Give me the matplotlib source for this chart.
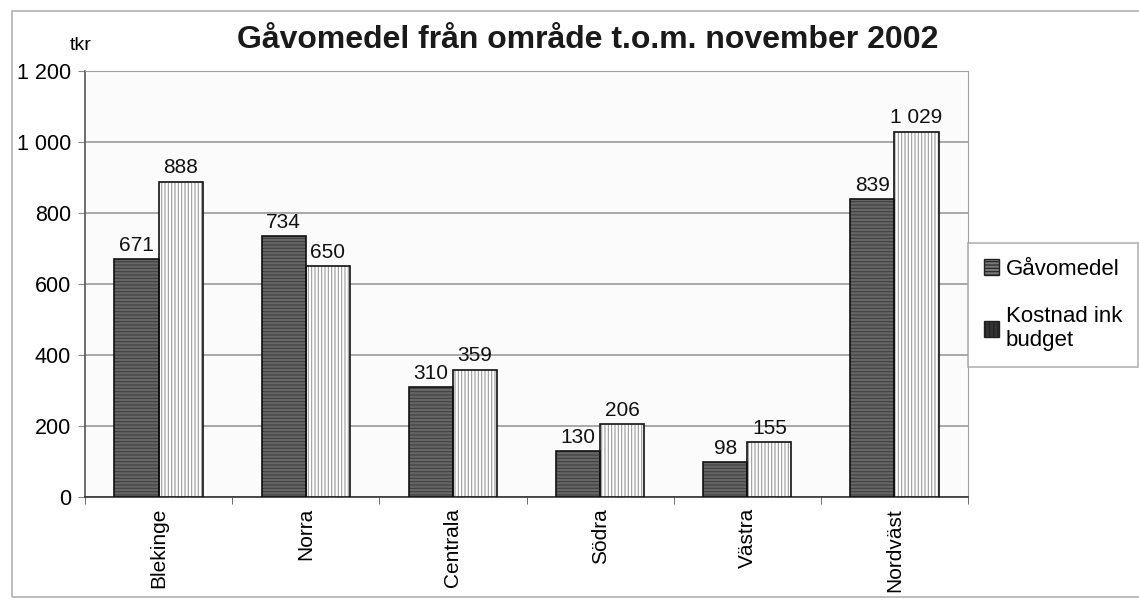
import matplotlib
matplotlib.use("Agg")
import matplotlib.pyplot as plt
import numpy as np
from matplotlib.patches import Rectangle, Patch

plt.rcParams['font.family'] = ['Liberation Sans', 'DejaVu Sans']
plt.rcParams['hatch.linewidth'] = 0.8

categories = ["Blekinge", "Norra", "Centrala", "Södra", "Västra", "Nordväst"]
gavomedel = [671, 734, 310, 130, 98, 839]
kostnad = [888, 650, 359, 206, 155, 1029]
series_names = ["Gåvomedel", "Kostnad ink\nbudget"]
yticks = [0, 200, 400, 600, 800, 1000, 1200]
ytick_labels = ["0", "200", "400", "600", "800", "1 000", "1 200"]

def fmt(v):
    return f"{v:,}".replace(",", " ")

fig = plt.figure(figsize=(11.39, 6.0), dpi=100)
ax = fig.add_axes([85/1139, 1 - 497/600, (968 - 85)/1139, (497 - 71)/600])

x = np.arange(len(categories))
w = 0.3
ax.bar(x - w/2, gavomedel, w, color="#666666", edgecolor="#404040", hatch="-----", linewidth=0, zorder=3)
ax.bar(x + w/2, kostnad, w, color="white", edgecolor="#9a9a9a", hatch="|||||", linewidth=0, zorder=3)
ax.bar(x - w/2, gavomedel, w, facecolor="none", edgecolor="#111111", linewidth=1.2, zorder=4)
ax.bar(x + w/2, kostnad, w, facecolor="none", edgecolor="#111111", linewidth=1.2, zorder=4)

for xi, v in zip(x - w/2, gavomedel):
    ax.text(xi, v + 12, fmt(v), ha="center", va="bottom", fontsize=15, color="#111111", zorder=5)
for xi, v in zip(x + w/2, kostnad):
    ax.text(xi, v + 12, fmt(v), ha="center", va="bottom", fontsize=15, color="#111111", zorder=5)

ax.set_xlim(-0.5, len(categories) - 0.5)
ax.set_ylim(0, 1200)
ax.set_yticks(yticks)
ax.set_yticklabels(ytick_labels, fontsize=15.5)
ax.set_xticks(x)
ax.set_xticklabels(categories, rotation=90, fontsize=15)
ax.tick_params(axis="x", length=0, pad=8)
ax.set_xticks(np.arange(-0.5, len(categories), 1.0), minor=True)
ax.tick_params(axis="x", which="minor", length=5, color="#555555")
ax.tick_params(axis="y", length=5, color="#888888", pad=5)
ax.yaxis.grid(True, color="#9a9a9a", linewidth=1.2, zorder=0)
ax.set_axisbelow(True)
ax.set_facecolor("#fbfbfb")
for s in ["top", "right"]:
    ax.spines[s].set_color("#a0a0a0")
ax.spines["left"].set_color("#555555")
ax.spines["bottom"].set_color("#333333")
ax.spines["left"].set_linewidth(1.2)
ax.spines["bottom"].set_linewidth(1.2)

fig.text(70/1139, 1 - 46/600, "tkr", fontsize=14, ha="left", va="center")
fig.text(588/1139, 1 - 40/600, "Gåvomedel från område t.o.m. november 2002",
         fontsize=23, fontweight="bold", ha="center", va="center", color="#1a1a1a")

# outer frame
fig.add_artist(Rectangle((12/1139, 3/600), 1.2, 586/600, transform=fig.transFigure,
                         facecolor="none", edgecolor="#b0b0b0", linewidth=1.2))

handles = [Patch(facecolor="#777777", edgecolor="#222222", hatch="-----"),
           Patch(facecolor="#333333", edgecolor="#222222", hatch="||||")]
leg = fig.legend(handles, series_names, loc="upper left",
                 bbox_to_anchor=(968/1139, 1 - 243/600), fontsize=16,
                 frameon=True, fancybox=False, handlelength=0.7, handleheight=0.7,
                 handletextpad=0.3, labelspacing=1.2, borderpad=0.7, borderaxespad=0)
leg.get_frame().set_edgecolor("#a0a0a0")
leg.get_frame().set_linewidth(1.2)

fig.savefig("out.png", dpi=100)
